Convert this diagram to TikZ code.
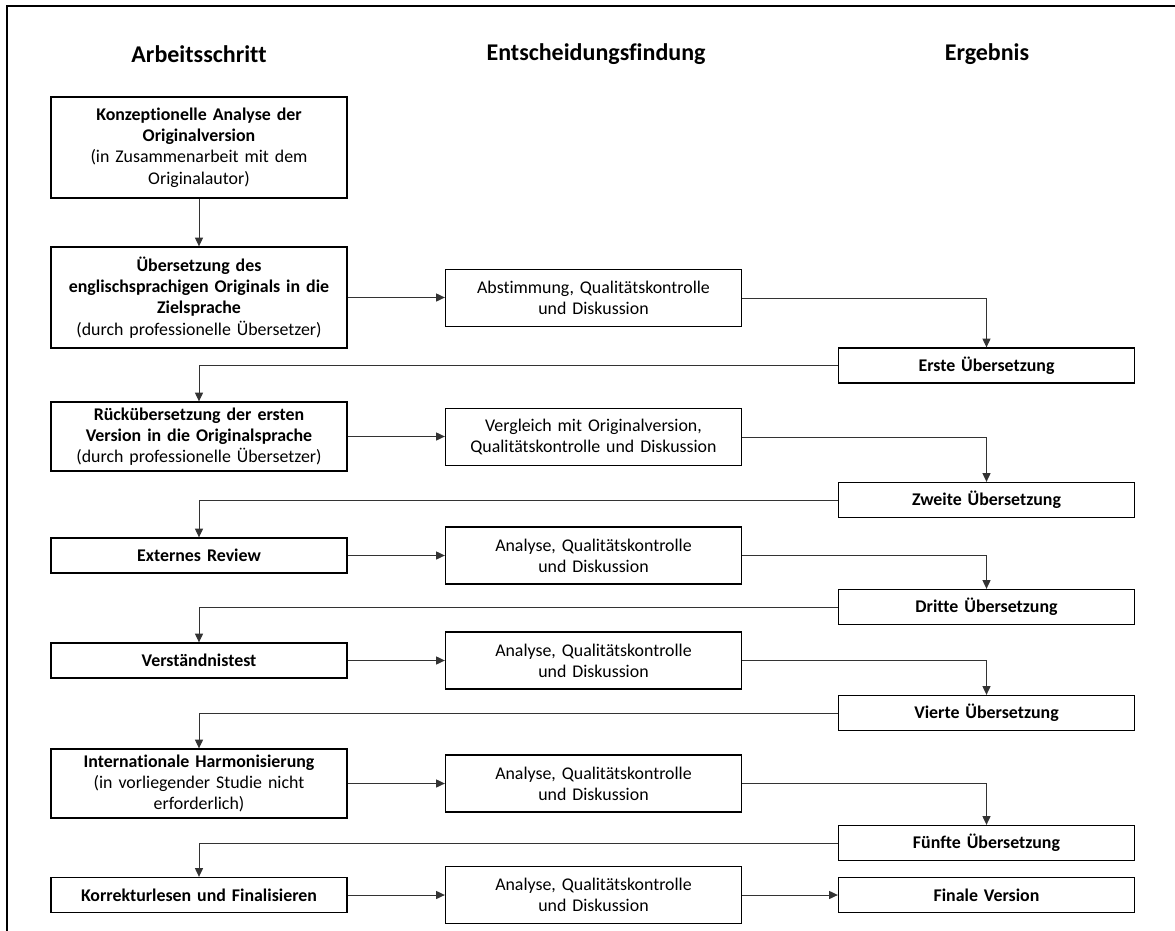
\documentclass[tikz,border=0pt]{standalone}
\usepackage{fontspec}
\setmainfont{Carlito}[Ligatures={NoCommon}]
\usetikzlibrary{arrows.meta}
\begin{document}
\begin{tikzpicture}[x=0.75pt,y=-0.75pt,
  boxfont/.style={font=\fontsize{13.4}{15.9}\selectfont},
  stepbox/.style={boxfont,draw=black,line width=1pt,inner xsep=2pt,inner ysep=0pt,
     text width=218pt,align=center,fill=white},
  colhead/.style={font=\fontsize{18}{21}\selectfont\bfseries},
  conn/.style={draw=black!80,line width=0.75pt,-{Triangle[length=6.5pt,width=6pt]}},
  h35/.style={minimum height=26.25pt},
  h57/.style={minimum height=42.75pt},
  h69/.style={minimum height=51.75pt},
  h101/.style={minimum height=75.75pt}]
\useasboundingbox (0,0) rectangle (1175,931);
\draw[line width=1.5pt] (7,931) -- (7,6) -- (1175,6);

\node[colhead] (h1) at (199,54) {Arbeitsschritt};
\node[colhead] (h2) at (596,54) {Entscheidungsfindung};
\node[colhead] (h3) at (987,54) {Ergebnis};

% left column
\node[stepbox,h101] (B1) at (199,147.5) {\textbf{Konzeptionelle Analyse der}\\\textbf{Originalversion}\\(in Zusammenarbeit mit dem\\Originalautor)};
\node[stepbox,h101] (B2) at (199,297.5) {\textbf{Übersetzung des}\\\textbf{englischsprachigen Originals in die}\\\textbf{Zielsprache}\\(durch professionelle Übersetzer)};
\node[stepbox,h69] (B3) at (199,436.5) {\textbf{Rückübersetzung der ersten}\\\textbf{Version in die Originalsprache}\\(durch professionelle Übersetzer)};
\node[stepbox,h35] (B4) at (199,555.5) {\textbf{Externes Review}};
\node[stepbox,h35] (B5) at (199,660.5) {\textbf{Verständnistest}};
\node[stepbox,h69] (B6) at (199,783.5) {\textbf{Internationale Harmonisierung}\\(in vorliegender Studie nicht\\erforderlich)};
\node[stepbox,h35] (B7) at (199,895) {\textbf{Korrekturlesen und Finalisieren}};

% middle column
\node[stepbox,h57] (M1) at (593.5,298) {Abstimmung, Qualitätskontrolle\\und Diskussion};
\node[stepbox,h57] (M2) at (593.5,437) {Vergleich mit Originalversion,\\Qualitätskontrolle und Diskussion};
\node[stepbox,h57] (M3) at (593.5,555.5) {Analyse, Qualitätskontrolle\\und Diskussion};
\node[stepbox,h57] (M4) at (593.5,660.5) {Analyse, Qualitätskontrolle\\und Diskussion};
\node[stepbox,h57] (M5) at (593.5,783.5) {Analyse, Qualitätskontrolle\\und Diskussion};
\node[stepbox,h57] (M6) at (593.5,895) {Analyse, Qualitätskontrolle\\und Diskussion};

% right column
\node[stepbox,h35] (R1) at (986.5,365.5) {\textbf{Erste Übersetzung}};
\node[stepbox,h35] (R2) at (986.5,500) {\textbf{Zweite Übersetzung}};
\node[stepbox,h35] (R3) at (986.5,607) {\textbf{Dritte Übersetzung}};
\node[stepbox,h35] (R4) at (986.5,713) {\textbf{Vierte Übersetzung}};
\node[stepbox,h35] (R5) at (986.5,843) {\textbf{Fünfte Übersetzung}};
\node[stepbox,h35] (R6) at (986.5,895) {\textbf{Finale Version}};

% connectors
\draw[conn] (B1.south) -- (B2.north);
\foreach \b/\m in {B2/M1,B3/M2,B4/M3,B5/M4,B6/M5,B7/M6}
  \draw[conn] (\b.east) -- (\b.east -| \m.west);
\foreach \m/\r in {M1/R1,M2/R2,M3/R3,M4/R4,M5/R5}
  \draw[conn] (\m.east) -| (\r.north);
\draw[conn] (M6.east) -- (M6.east -| R6.west);
\foreach \r/\b in {R1/B3,R2/B4,R3/B5,R4/B6,R5/B7}
  \draw[conn] (\r.west) -| (\b.north);
\end{tikzpicture}
\end{document}
